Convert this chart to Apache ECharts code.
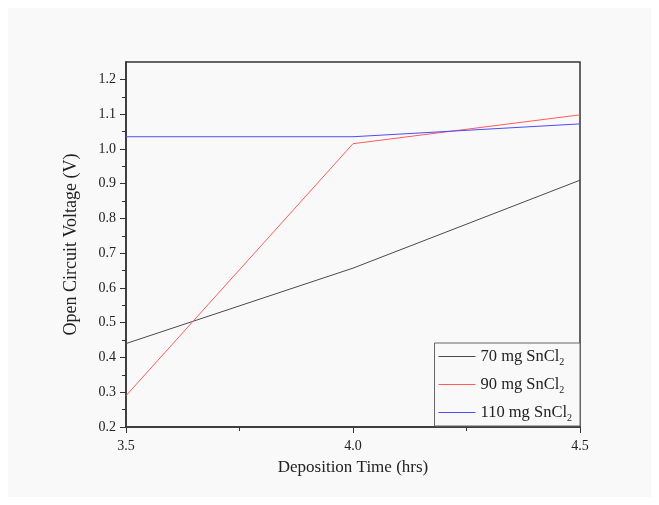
<!DOCTYPE html>
<html>
<head>
<meta charset="utf-8">
<script src="https://cdn.jsdelivr.net/npm/echarts@6/dist/echarts.min.js"></script>
<style>html,body{margin:0;padding:0;background:#fff}#c{width:659px;height:505px}</style>
</head>
<body>
<div id="c"></div>
<script>
var times = [3.5, 4.0, 4.5];
var xTicks = ['3.5', '4.0', '4.5'];
var yTicks = [0.2, 0.3, 0.4, 0.5, 0.6, 0.7, 0.8, 0.9, 1.0, 1.1, 1.2];
var s70 = [0.44, 0.657, 0.91];
var s90 = [0.29, 1.015, 1.098];
var s110 = [1.035, 1.035, 1.072];
var names = ['70 mg SnCl2', '90 mg SnCl2', '110 mg SnCl2'];
var colors = ['#4a4a4a', '#ff5c5c', '#4c4cf5'];

function pairs(v) { return times.map(function (t, i) { return [t, v[i]]; }); }

var font = '"Liberation Serif", "Times New Roman", serif';
var chart = echarts.init(document.getElementById('c'));
chart.setOption({
  animation: false,
  backgroundColor: '#ffffff',
  textStyle: { fontFamily: font },
  graphic: [{
    type: 'rect', z: -10, silent: true,
    shape: { x: 8, y: 8, width: 643, height: 489 },
    style: { fill: '#f9f9fa' }
  }],
  grid: {
    left: 126, right: 79, top: 62, bottom: 78,
    show: true, borderColor: '#333', borderWidth: 1.5, backgroundColor: 'transparent'
  },
  legend: {
    orient: 'vertical',
    right: 79, bottom: 79,
    width: 150,
    backgroundColor: '#f9f9fa',
    borderColor: '#666', borderWidth: 1,
    padding: [5, 8, 3, 4],
    itemGap: 9,
    itemWidth: 37, itemHeight: 14,
    icon: 'path://M0,7L37,7L37,8L0,8Z',
    data: names.map(function (n, i) { return { name: n, itemStyle: { color: colors[i] } }; }),
    formatter: function (n) { return n.replace('SnCl2', 'SnCl{s|2}'); },
    textStyle: {
      fontFamily: font, fontSize: 16.5, color: '#222',
      rich: { s: { fontFamily: font, fontSize: 10, color: '#222', padding: [11, 0, 0, 0] } }
    }
  },
  xAxis: {
    type: 'value', min: 3.5, max: 4.5, interval: 0.5,
    name: 'Deposition Time (hrs)', nameLocation: 'middle', nameGap: 32,
    nameTextStyle: { fontFamily: font, fontSize: 17, color: '#222' },
    axisLine: { lineStyle: { color: '#333', width: 1.5 } },
    axisTick: { length: 6, lineStyle: { color: '#333' } },
    minorTick: { show: true, splitNumber: 2, length: 4, lineStyle: { color: '#333' } },
    splitLine: { show: false },
    axisLabel: {
      fontFamily: font, fontSize: 14, color: '#222', margin: 12,
      formatter: function (v) { var i = times.indexOf(v); return i >= 0 ? xTicks[i] : ''; }
    }
  },
  yAxis: {
    type: 'value', min: 0.2, max: 1.25, interval: 0.1,
    name: 'Open Circuit Voltage (V)', nameLocation: 'middle', nameGap: 46,
    nameTextStyle: { fontFamily: font, fontSize: 18, color: '#222' },
    axisLine: { lineStyle: { color: '#333', width: 1.5 } },
    axisTick: { length: 6, lineStyle: { color: '#333' }, customValues: yTicks },
    minorTick: { show: true, splitNumber: 2, length: 4, lineStyle: { color: '#333' } },
    splitLine: { show: false },
    axisLabel: {
      fontFamily: font, fontSize: 14, color: '#222', margin: 10, customValues: yTicks,
      formatter: function (v) { return v.toFixed(1); }
    }
  },
  series: names.map(function (n, i) {
    return {
      name: n, type: 'line', data: pairs([s70, s90, s110][i]),
      symbol: 'none', lineStyle: { color: colors[i], width: 1 }, itemStyle: { color: colors[i] }
    };
  })
});
</script>
</body>
</html>
